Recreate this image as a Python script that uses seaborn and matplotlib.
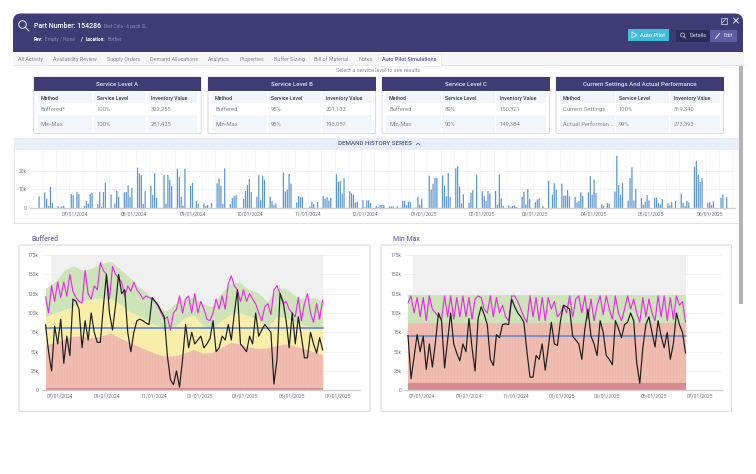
import numpy as np
import pandas as pd
import seaborn as sns
import matplotlib.pyplot as plt
from matplotlib.patches import Rectangle, FancyBboxPatch, Circle

#####################################
# Data
#####################################

service_tables = {
    "Service Level A": [("Buffered*", "100%", "322,255"), ("Min-Max", "100%", "281,425")],
    "Service Level B": [("Buffered", "95%", "201,133"), ("Min-Max", "95%", "193,057")],
    "Service Level C": [("Buffered", "89%", "150,321"), ("Min-Max", "90%", "149,384")],
    "Current Settings And Actual Performance": [
        ("Current Settings", "100%", "319,340"),
        ("Actual Performan...", "99%", "273,393"),
    ],
}
table_columns = ["Method", "Service Level", "Inventory Value"]
tab_names = ["All Activity", "Availability Review", "Supply Orders", "Demand Allocations",
             "Analytics", "Properties", "Buffer Sizing", "Bill of Material", "Notes"]

# demand per weekday (k), one row per week
demand_weeks = [
    [0, 0, 0, 0, 6.3], [8.3, 4.8, 1, 11.2, 2.8], [1, 0.2, 0.9, 1.2, 0], [7.5, 6.8, 0, 8.7, 7.4],
    [1.1, 3.7, 2.3, 7.5, 8], [2.1, 8.7, 0.7, 8.5, 13.5], [7.2, 0, 2.4, 9.2, 5.9], [8.4, 8.6, 12.3, 5.9, 10.8],
    [21.5, 18.5, 17.6, 2.2, 9], [12, 7, 18.6, 5.4, 0], [17.7, 2.3, 17.6, 15, 11.7], [21, 16.8, 6, 1.2, 21],
    [11.8, 13.4, 0, 3.8, 2.2], [2.4, 1.1, 1.6, 0, 2.7], [13.2, 15.8, 12, 2.2, 21.2], [2, 5.3, 6.3, 6.9, 0],
    [4.8, 9, 12.2, 15.5, 8.5], [5.9, 17.6, 4.2, 17.3, 15], [6, 3.8, 1.5, 2.5, 0], [19, 8.8, 9.8, 18.2, 13],
    [3, 6.5, 5.8, 5.8, 0], [0.8, 3.3, 2.2, 0, 3.2], [6.5, 5, 5.9, 4, 5.4], [18, 14, 14.5, 7.7, 15.9],
    [9, 7.8, 7, 2.9, 3.3], [4.2, 0.3, 4.1, 4.1, 2.6], [1, 0.6, 1.6, 1.6, 1.6], [0.8, 0.8, 1, 0, 1],
    [3.9, 3.9, 1.5, 3.4, 3.3], [0.2, 5.9, 1.7, 5, 0], [17.3, 9.8, 13, 16.2, 16], [17.4, 12, 6.2, 18.6, 6],
    [21.2, 22.2, 11.5, 2.4, 7.3], [2.8, 8, 9.5, 0, 17.6], [8.9, 6.3, 3.9, 9, 7.7], [9.2, 1.7, 17.7, 5.2, 1.2],
    [1.4, 0.6, 1.1, 1.4, 0.5], [5.9, 8.6, 1.9, 10, 4.8], [3.1, 4.6, 5.1, 0, 1], [14.6, 0, 7.1, 13.3, 9.8],
    [13, 6.6, 6.6, 9.6, 6.3], [6, 3, 3.7, 8.4, 6.5], [8.3, 17, 7.1, 15.2, 8], [1.9, 1.2, 0, 2.6, 2.3],
    [8.8, 28, 12.3, 7.1, 13.3], [4, 16, 21.8, 4, 10.2], [5.3, 1.8, 3.3, 6.9, 4], [5.5, 5.5, 2.7, 2, 4.8],
    [2.5, 1.4, 3.3, 0, 3.7], [7.6, 2.6, 1, 3.9, 2.9], [22, 25.2, 17.8, 13.9, 16], [2.7, 3.1, 1.5, 3.5, 0],
    [5.5, 7.2, 0, 5.8, 0],
]

# Buffered panel, one value every 4 days (k)
buffered_position = [121, 100, 135, 115, 140, 120, 140, 122, 150, 128, 120, 115, 113, 155, 125, 118, 135, 130, 165, 155,
                     150, 118, 160, 150, 145, 140, 122, 135, 128, 140, 130, 125, 118, 122, 120, 118, 115, 108, 100, 92,
                     95, 78, 100, 105, 122, 100, 118, 122, 100, 125, 100, 115, 105, 92, 90, 100, 118, 105, 122, 105,
                     138, 148, 135, 130, 115, 130, 115, 125, 118, 112, 100, 90, 108, 112, 98, 130, 135, 125, 112, 115,
                     105, 100, 95, 120, 90, 112, 125, 100, 88, 112, 92, 117]
buffered_onhand = [85, 50, 25, 83, 60, 92, 35, 70, 45, 118, 115, 105, 55, 90, 65, 100, 75, 62, 62, 108,
                   150, 100, 78, 110, 150, 125, 130, 75, 50, 75, 90, 92, 90, 87, 85, 120, 115, 110, 102, 95,
                   45, 14, 7, 25, 4, 40, 85, 55, 75, 60, 65, 70, 55, 60, 67, 90, 50, 55, 70, 65,
                   85, 65, 100, 130, 60, 55, 50, 70, 60, 100, 70, 78, 85, 80, 75, 8, 40, 125, 115, 90,
                   55, 100, 60, 95, 70, 42, 42, 75, 60, 48, 68, 52]
buffered_green = [132, 140, 155, 161, 155, 158, 164, 167, 158, 147, 135, 126, 112, 102, 112, 118, 120,
                  112, 108, 125, 138, 140, 130, 126, 115, 132, 132, 122, 118, 120, 115]
buffered_yellow = [95, 100, 104, 108, 115, 118, 119, 119, 112, 102, 97, 90, 84, 80, 82, 93, 97,
                   84, 80, 90, 98, 100, 96, 92, 82, 95, 94, 88, 84, 82, 80]
buffered_red = [59, 62, 66, 70, 70, 68, 70, 74, 68, 62, 57, 52, 47, 44, 45, 48, 53,
                48, 49, 55, 62, 60, 56, 54, 55, 58, 60, 57, 54, 50, 46]
buffered_safety = 3.5
buffered_average = 80.5

# Min Max panel, one value every 4 days (k)
minmax_position = [113, 122, 100, 120, 95, 120, 90, 122, 105, 100, 95, 92, 122, 95, 122, 92, 120, 95, 122, 95,
                   120, 92, 118, 122, 120, 105, 100, 122, 95, 120, 100, 110, 95, 90, 122, 122, 115, 105, 95, 88,
                   122, 95, 120, 90, 120, 90, 120, 105, 115, 95, 100, 110, 100, 122, 95, 118, 122, 100, 122, 92,
                   118, 90, 110, 122, 98, 122, 105, 92, 122, 100, 90, 105, 122, 105, 118, 100, 88, 120, 95, 118,
                   100, 90, 122, 95, 122, 90, 120, 92, 122, 110, 115, 88]
minmax_onhand = [71, 15, 43, 72, 50, 70, 27, 60, 30, 62, 100, 90, 29, 65, 100, 60, 48, 38, 60, 50,
                 93, 55, 25, 93, 108, 98, 85, 40, 32, 72, 68, 85, 86, 85, 118, 108, 100, 95, 88, 50,
                 17, 17, 45, 40, 60, 26, 55, 88, 60, 58, 90, 110, 108, 105, 70, 65, 60, 40, 80, 105,
                 70, 60, 45, 90, 75, 45, 40, 33, 90, 80, 68, 85, 88, 100, 90, 35, 9, 55, 85, 95,
                 75, 56, 90, 70, 55, 75, 40, 60, 100, 85, 75, 48]
minmax_green = 123
minmax_red = 87.5
minmax_safety = 9
minmax_average = 70.5

#####################################
# Styling
#####################################

FIG_W, FIG_H = 756, 474
HEADER = "#3f3c75"
TEXT_GRAY = "#8a8a92"
TEXT_DARK = "#3a3a44"
ROW_BLUE = "#f1f5fc"
BAND_GREEN = "#cde3b8"
BAND_YELLOW = "#f8eea8"
BAND_RED = "#f0bcb0"
BAND_DARK = "#d98b92"

sns.set_theme(style="white")
plt.rcParams["font.family"] = ["Roboto", "DejaVu Sans"]
plt.rcParams["axes.unicode_minus"] = False


def day_offset(date_text):
    return (pd.Timestamp(date_text) - pd.Timestamp("2024-07-01")).days


def make_axes(fig, left, top, right, bottom):
    """Add an axes placed by pixel edges (top-left origin)."""
    return fig.add_axes([left / FIG_W, 1 - bottom / FIG_H, (right - left) / FIG_W, (bottom - top) / FIG_H])


def style_axes(ax, y_ticks, y_labels, date_ticks):
    ax.set_yticks(y_ticks, y_labels)
    ax.set_xticks([day_offset(d) for d in date_ticks],
                  [pd.Timestamp(d).strftime("%m/%d/%Y") for d in date_ticks])
    ax.tick_params(axis="both", labelsize=3.6, labelcolor="#77777f", length=0, pad=2.5)
    for name in ["top", "right", "left"]:
        ax.spines[name].set_visible(False)
    ax.spines["bottom"].set_color("#cfcfd4")
    ax.spines["bottom"].set_linewidth(1.0)
    ax.set_xlabel("")
    ax.set_ylabel("")


#####################################
# Page chrome
#####################################

def draw_card(page, left, top, right, bottom):
    page.add_patch(FancyBboxPatch((left, top), right - left, bottom - top, boxstyle="round,pad=0,rounding_size=1.5",
                                  fc="white", ec="#dcdce2", lw=0.8, zorder=1))


def draw_table(page, left, title, rows):
    right = left + 167.5
    draw_card(page, left, 77, right, 133.5)
    page.add_patch(Rectangle((left, 76.7), right - left, 14.3, fc=HEADER, ec="none", zorder=2))
    page.text((left + right) / 2, 84, title, color="#e4e4f0", fontsize=4.4, fontweight="medium",
              ha="center", va="center", zorder=3)
    col_left = [left + 4, left + 60, left + 114]
    col_right = [left + 58.5, left + 112.5, left + 163.5]
    text_x = [left + 7, left + 63, left + 117.5]
    for i in range(3):
        page.add_patch(Rectangle((col_left[i], 92), col_right[i] - col_left[i], 11, fc=ROW_BLUE, ec="none", zorder=2))
        page.add_patch(Rectangle((col_left[i], 115), col_right[i] - col_left[i], 16.5, fc=ROW_BLUE, ec="none", zorder=2))
        page.text(text_x[i], 98, table_columns[i], color=TEXT_DARK, fontsize=3.8, fontweight="medium",
                  va="center", zorder=3)
        page.text(text_x[i], 109.5, rows[0][i], color=TEXT_GRAY, fontsize=4.2, va="center", zorder=3)
        page.text(text_x[i], 124, rows[1][i], color=TEXT_GRAY, fontsize=4.2, va="center", zorder=3)


def draw_search_icon(page, x, y, r, color, lw):
    page.add_patch(Circle((x, y), r, fc="none", ec=color, lw=lw, zorder=4))
    page.plot([x + r * 0.7, x + r * 1.7], [y + r * 0.7, y + r * 1.7], color=color, lw=lw, zorder=4)


def draw_page(fig):
    page = fig.add_axes([0, 0, 1, 1])
    page.set_xlim(0, FIG_W)
    page.set_ylim(FIG_H, 0)
    page.axis("off")

    # header
    page.add_patch(FancyBboxPatch((13, 13.5), 352 * 2 + 26, 60, boxstyle="round,pad=0,rounding_size=8",
                                  fc=HEADER, ec="none", zorder=1))
    page.add_patch(Rectangle((13, 52), 731, 30, fc="white", ec="none", zorder=1))
    page.add_patch(Rectangle((13, 52.3), 731, 13, fc="#f6f6f8", ec="none", zorder=1))
    page.plot([13, 744], [65.3, 65.3], color="#e2e2e6", lw=0.6, zorder=2)
    draw_search_icon(page, 22.5, 24.5, 3.8, "#e8e8f2", 0.7)
    page.text(34, 25.5, "Part Number: 154286", color="white", fontsize=5, fontweight="medium", va="center", zorder=4)
    page.text(104, 26, "Diet Cola - 6 pack 2L", color="#8d8bb6", fontsize=3.4, va="center", zorder=4)
    page.text(34, 39.3, "Rev:", color="white", fontsize=3.4, fontweight="bold", va="center", zorder=4)
    page.text(45, 39.3, "Empty / None", color="#8d8bb6", fontsize=3.5, va="center", zorder=4)
    page.text(80.5, 39.3, "/", color="white", fontsize=4, fontweight="bold", va="center", zorder=4)
    page.text(85.5, 39.3, "Location:", color="white", fontsize=3.4, fontweight="bold", va="center", zorder=4)
    page.text(107.7, 39.3, "Bottler", color="#8d8bb6", fontsize=3.5, va="center", zorder=4)

    # header buttons
    page.add_patch(Rectangle((627.5, 29.3), 41, 11.7, fc="#3dbfdc", ec="none", zorder=2))
    page.text(640.5, 35.3, "Auto Pilot", color="#eaf9fd", fontsize=4.1, fontweight="medium", va="center", zorder=4)
    page.plot([632, 632, 637, 632], [32, 38, 35, 32], color="#eaf9fd", lw=0.5, zorder=4)
    page.add_patch(Rectangle((676, 30), 34, 12, fc="#2f2c5c", ec="none", zorder=2))
    page.add_patch(Rectangle((710, 30), 27, 12, fc="#5f5ca3", ec="none", zorder=2))
    draw_search_icon(page, 682.5, 35, 2, "#d8d8e8", 0.45)
    page.text(689, 35.8, "Details", color="#d8d8e8", fontsize=4.1, va="center", zorder=4)
    page.text(723.5, 35.8, "Edit", color="#d8d8e8", fontsize=4.1, va="center", zorder=4)
    page.plot([715.5, 719.5], [38.5, 33.5], color="#d8d8e8", lw=0.8, zorder=4)
    page.add_patch(Rectangle((720.5, 17.5), 6.5, 6.5, fc="none", ec="#e0e0ee", lw=0.5, zorder=4))
    page.plot([722, 726], [23, 19], color="#e0e0ee", lw=0.5, zorder=4)
    page.plot([733.5, 738.5], [18, 23], color="#e8e8f2", lw=0.7, zorder=4)
    page.plot([733.5, 738.5], [23, 18], color="#e8e8f2", lw=0.7, zorder=4)

    # tabs
    tab_x = [18.3, 52.7, 106.7, 150, 207.7, 239, 274, 314, 358.3]
    for x, name in zip(tab_x, tab_names):
        page.text(x, 59.3, name, color=TEXT_GRAY, fontsize=3.85, va="center", zorder=3)
    page.add_patch(Rectangle((378, 53.5), 62.5, 12.2, fc="white", ec="#e2e2e6", lw=0.4, zorder=2))
    page.text(382, 59.5, "Auto Pilot Simulations", color="#4f4c95", fontsize=3.85, fontweight="medium",
              va="center", zorder=3)
    page.text(378.5, 70, "Select a service level to see results", color=TEXT_GRAY, fontsize=4,
              ha="center", va="center", zorder=3)

    # simulation tables
    for left, (title, rows) in zip([33.7, 208, 382, 556], service_tables.items()):
        draw_table(page, left, title, rows)

    # demand card
    page.add_patch(Rectangle((13.5, 137.5), 725, 85, fc="white", ec="#e3e3e8", lw=0.7, zorder=1))
    page.add_patch(Rectangle((13.5, 137.5), 725, 12, fc="#e8effa", ec="none", zorder=2))
    page.text(375, 143.7, "DEMAND HISTORY SERIES", color="#55537f", fontsize=4.45, fontweight="medium",
              ha="center", va="center", zorder=3)
    page.plot([416, 418, 420], [145, 143, 145], color="#55537f", lw=0.5, zorder=3)

    # chart cards
    draw_card(page, 19, 245, 370, 411.5)
    draw_card(page, 381, 245, 731.5, 411.5)
    page.text(31, 239, "Buffered", color="#6f6eaa", fontsize=5, fontweight="medium", va="center", zorder=3)
    page.text(393, 239, "Min Max", color="#6f6eaa", fontsize=5, fontweight="medium", va="center", zorder=3)

    # scrollbar
    page.add_patch(Rectangle((738.5, 66), 4.5, 238, fc="#b4b4b8", ec="none", zorder=5))


#####################################
# Chart functions
#####################################

def plot_demand(fig):
    ax = make_axes(fig, 30, 150, 735, 208)
    ax.patch.set_alpha(0)
    demand_df = pd.DataFrame({
        "day": [-23 + 7 * week + weekday for week in range(len(demand_weeks)) for weekday in range(5)],
        "demand": np.array(demand_weeks).ravel(),
    })
    sns.barplot(data=demand_df, x="day", y="demand", native_scale=True, color="#5a96cf", saturation=1,
                width=0.65, errorbar=None, linewidth=0, ax=ax)
    for bar in ax.patches:
        bar.set_snap(False)
    ax.set_xlim(-23.8, 348.4)
    ax.set_ylim(0, 31)
    for x in range(-23, 349, 7):
        ax.axvline(x + 6, color="#f3f3f5", lw=0.5, zorder=0)
    for y in [10, 20]:
        ax.axhline(y, color="#eeeef0", lw=0.5, zorder=0)
    months = [d.strftime("%Y-%m-%d") for d in pd.date_range("2024-07-01", "2025-06-01", freq="MS")]
    style_axes(ax, [0, 10, 20], ["0", "10k", "20k"], months)


def plot_levels(fig, box, start_day, green, yellow, red, safety, average, position, onhand, gray_from):
    ax = make_axes(fig, *box[:4])
    ax.patch.set_alpha(0)
    x_min, x_max = box[4], box[5]
    end_day = start_day + 4 * (len(position) - 1)
    ax.axvspan(gray_from, end_day, color="#f0f0f1", lw=0, zorder=0)
    for y in range(25, 176, 25):
        ax.axhline(y, color="#eeeef0", lw=0.5, zorder=0.5)

    band_days = np.linspace(start_day, end_day, len(red))
    ax.fill_between(band_days, yellow, green, color=BAND_GREEN, lw=0, zorder=1)
    if yellow is not red:
        ax.fill_between(band_days, red, yellow, color=BAND_YELLOW, lw=0, zorder=1)
    ax.fill_between(band_days, safety, red, color=BAND_RED, lw=0, zorder=1)
    ax.fill_between(band_days, 0, safety, color=BAND_DARK, lw=0, zorder=1)

    lines_df = pd.DataFrame({
        "day": start_day + 4 * np.arange(len(position)),
        "position": position,
        "onhand": onhand,
        "average": average,
    })
    # faint vertical stripes that run through the red zone
    ax.vlines(lines_df["day"], 0, np.interp(lines_df["day"], band_days, red), color="#dc8f85", lw=0.4,
              alpha=0.15, zorder=1.5)
    sns.lineplot(data=lines_df, x="day", y="average", color="#6a8fd0", lw=1.3, ax=ax, zorder=2)
    sns.lineplot(data=lines_df, x="day", y="position", color="#ee22ee", lw=0.8, ax=ax, zorder=3)
    sns.lineplot(data=lines_df, x="day", y="onhand", color="#1c1c1c", lw=0.85, ax=ax, zorder=4)

    ax.set_xlim(x_min, x_max)
    ax.set_ylim(0, 175)
    style_axes(ax, list(range(0, 176, 25)), ["0", "25k", "50k", "75k", "100k", "125k", "150k", "175k"],
               ["2024-07-01", "2024-09-01", "2024-11-01", "2025-01-01", "2025-03-01", "2025-05-01", "2025-07-01"])


#####################################
# Main Execution
#####################################

def main():
    fig = plt.figure(figsize=(FIG_W / 100, FIG_H / 100), dpi=100, facecolor="white")
    draw_page(fig)
    plot_demand(fig)
    plot_levels(fig, (42, 255, 360, 390.3, -23.6, 394), -19,
                buffered_green, buffered_yellow, buffered_red, buffered_safety, buffered_average,
                buffered_position, buffered_onhand, -11.8)
    flat_red = [minmax_red] * 2
    plot_levels(fig, (405, 255, 722, 390.3, -21.9, 393.8), -18,
                [minmax_green] * 2, flat_red, flat_red, minmax_safety, minmax_average,
                minmax_position, minmax_onhand, -12)
    fig.savefig("out.png", dpi=100)


if __name__ == "__main__":
    main()
